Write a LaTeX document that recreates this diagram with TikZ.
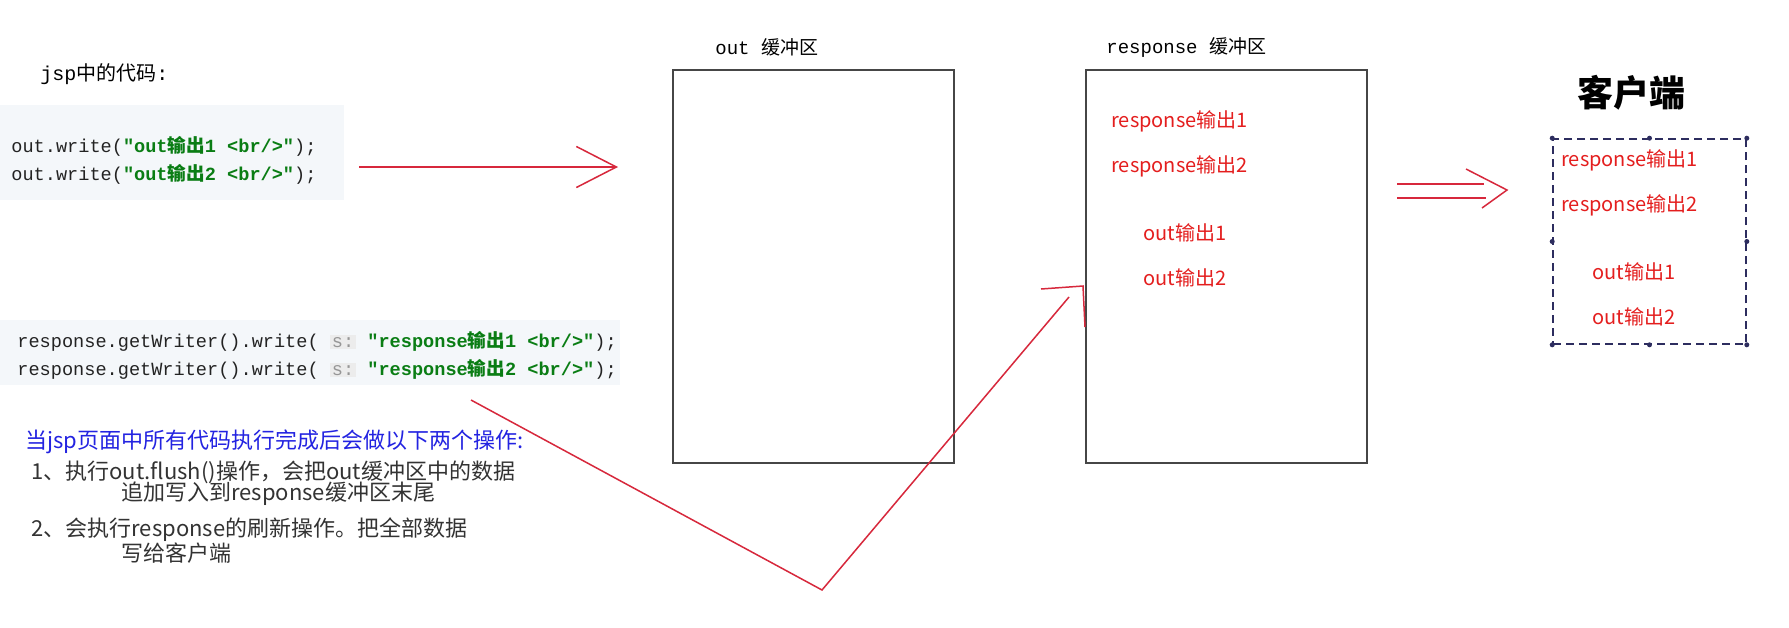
\documentclass[tikz,border=0pt]{standalone}
\usepackage{fontspec}
\setmainfont{Noto Sans CJK SC}
\newfontfamily\codefont{Liberation Mono}
\newfontfamily\cjkfont{Noto Sans CJK SC}
\usetikzlibrary{arrows.meta}
\definecolor{redline}{RGB}{215,40,60}
\definecolor{redtext}{RGB}{228,30,30}
\definecolor{codegreen}{RGB}{10,125,20}
\definecolor{codegray}{RGB}{35,35,35}
\definecolor{codebg}{RGB}{244,247,250}
\definecolor{hintbg}{RGB}{236,236,236}
\definecolor{hintgray}{RGB}{150,150,150}
\definecolor{noteblue}{RGB}{35,35,225}
\definecolor{clientnavy}{RGB}{45,45,95}
\definecolor{boxgray}{RGB}{70,70,70}
\newcommand{\cn}[1]{{\cjkfont #1}}
\newcommand{\sarghint}{{\fboxsep=1pt\colorbox{hintbg}{\color{hintgray}s:}}}
\begin{document}
\begin{tikzpicture}[x=0.5pt, y=-0.5pt]

		\tikzstyle{code} = [anchor=west, inner sep=0, text=codegray, font=\codefont\fontsize{9.3}{11}\selectfont]
		
		\tikzstyle{buffer} = [rectangle, draw=boxgray, line width=1pt, minimum width=140.5pt, minimum height=196.5pt]
		
		\tikzstyle{output} = [anchor=west, inner sep=0, text=redtext, font=\fontsize{10}{12}\selectfont]
		
		\tikzstyle{note} = [anchor=west, inner sep=0, text=black!80, font=\fontsize{11}{13}\selectfont]
		
		\tikzstyle{links} = [redline, line width=0.75pt]
		
		\path[use as bounding box, fill=white] (0,0) rectangle (1789,627);
		
		\fill[codebg] (0,105) rectangle (344,200);
		\fill[codebg] (0,320) rectangle (620,385);
		
		\node[anchor=west, inner sep=0, font=\codefont\fontsize{10}{12}\selectfont] at (40,74) (jsplabel) {jsp\cn{中的代码}:};
		
		\node[code] at (11,146) (outwrite1) {out.write({\color{codegreen}\bfseries"out\cn{输出}1 <br/>"});};
		\node[code] at (11,174) (outwrite2) {out.write({\color{codegreen}\bfseries"out\cn{输出}2 <br/>"});};
		
		\node[code] at (17,341) (respwrite1) {response.getWriter().write( \sarghint{} {\color{codegreen}\bfseries"response\cn{输出}1 <br/>"});};
		\node[code] at (17,369) (respwrite2) {response.getWriter().write( \sarghint{} {\color{codegreen}\bfseries"response\cn{输出}2 <br/>"});};
		
		\node[note, text=noteblue] at (25,442) (summary) {当jsp页面中所有代码执行完成后会做以下两个操作:};
		\node[note] at (31,472) (stepone) {1、执行out.flush()操作，会把out缓冲区中的数据};
		\node[note] at (121,494) (steponeb) {追加写入到response缓冲区末尾};
		\node[note] at (31,530) (steptwo) {2、会执行response的刷新操作。把全部数据};
		\node[note] at (121,553) (steptwob) {写给客户端};
		
		\node[buffer] at (813.5,266.5) (outbuffer) {};
		\node[buffer] at (1226.5,266.5) (respbuffer) {};
		
		\node[anchor=west, inner sep=0, font=\codefont\fontsize{9.5}{11}\selectfont] at (715,47) (outlabel) {out \cn{缓冲区}};
		\node[anchor=west, inner sep=0, font=\codefont\fontsize{9.5}{11}\selectfont] at (1106,47) (resplabel) {response \cn{缓冲区}};
		
		\node[output] at (1111,121) (respout1) {response输出1};
		\node[output] at (1111,166) (respout2) {response输出2};
		\node[output] at (1143,233) (respout3) {out输出1};
		\node[output] at (1143,278) (respout4) {out输出2};
		
		\node[font=\fontsize{18}{20}\selectfont\bfseries] at (1631,93) (clientlabel) {客户端};
		
		\node[rectangle, draw=clientnavy, line width=0.8pt, dash pattern=on 4pt off 2.5pt, minimum width=96.5pt, minimum height=102.5pt] at (1649.5,241.5) (client) {};
		
		\fill[clientnavy] (client.north west) circle (2.5);
		\fill[clientnavy] (client.north) circle (2.5);
		\fill[clientnavy] (client.north east) circle (2.5);
		\fill[clientnavy] (client.east) circle (2.5);
		\fill[clientnavy] (client.south east) circle (2.5);
		\fill[clientnavy] (client.south) circle (2.5);
		\fill[clientnavy] (client.south west) circle (2.5);
		\fill[clientnavy] (client.west) circle (2.5);
		
		\node[output] at (1561,160) (clientout1) {response输出1};
		\node[output] at (1561,205) (clientout2) {response输出2};
		\node[output] at (1592,272) (clientout3) {out输出1};
		\node[output] at (1592,317) (clientout4) {out输出2};
		
		\coordinate (codeend) at (359,167);
		\coordinate (outin) at (618,167);
		
		\coordinate (flushstart) at (471,400);
		\coordinate (flushturn) at (822,590);
		\coordinate (flushend) at (1069,297);
		\coordinate (hookleft) at (1041,289);
		\coordinate (hookcorner) at (1083,286);
		\coordinate (hookdown) at (1085,327);
		
		\coordinate (respend1) at (1397,184);
		\coordinate (clientin1) at (1484,184);
		\coordinate (respend2) at (1397,198);
		\coordinate (clientin2) at (1486,198);
		\coordinate (chevtop) at (1466,169);
		\coordinate (clientin) at (1507,190);
		\coordinate (chevbottom) at (1482,208);
		
		\draw[links, -{Straight Barb[length=20pt,width=20.5pt]}] (codeend) -- (outin);
		
		\draw[links] (flushstart) -- (flushturn) -- (flushend);
		\draw[links] (hookleft) -- (hookcorner) -- (hookdown);
		
		\draw[links] (respend1) -- (clientin1);
		\draw[links] (respend2) -- (clientin2);
		\draw[links] (chevtop) -- (clientin) -- (chevbottom);
	\end{tikzpicture}
\end{document}
